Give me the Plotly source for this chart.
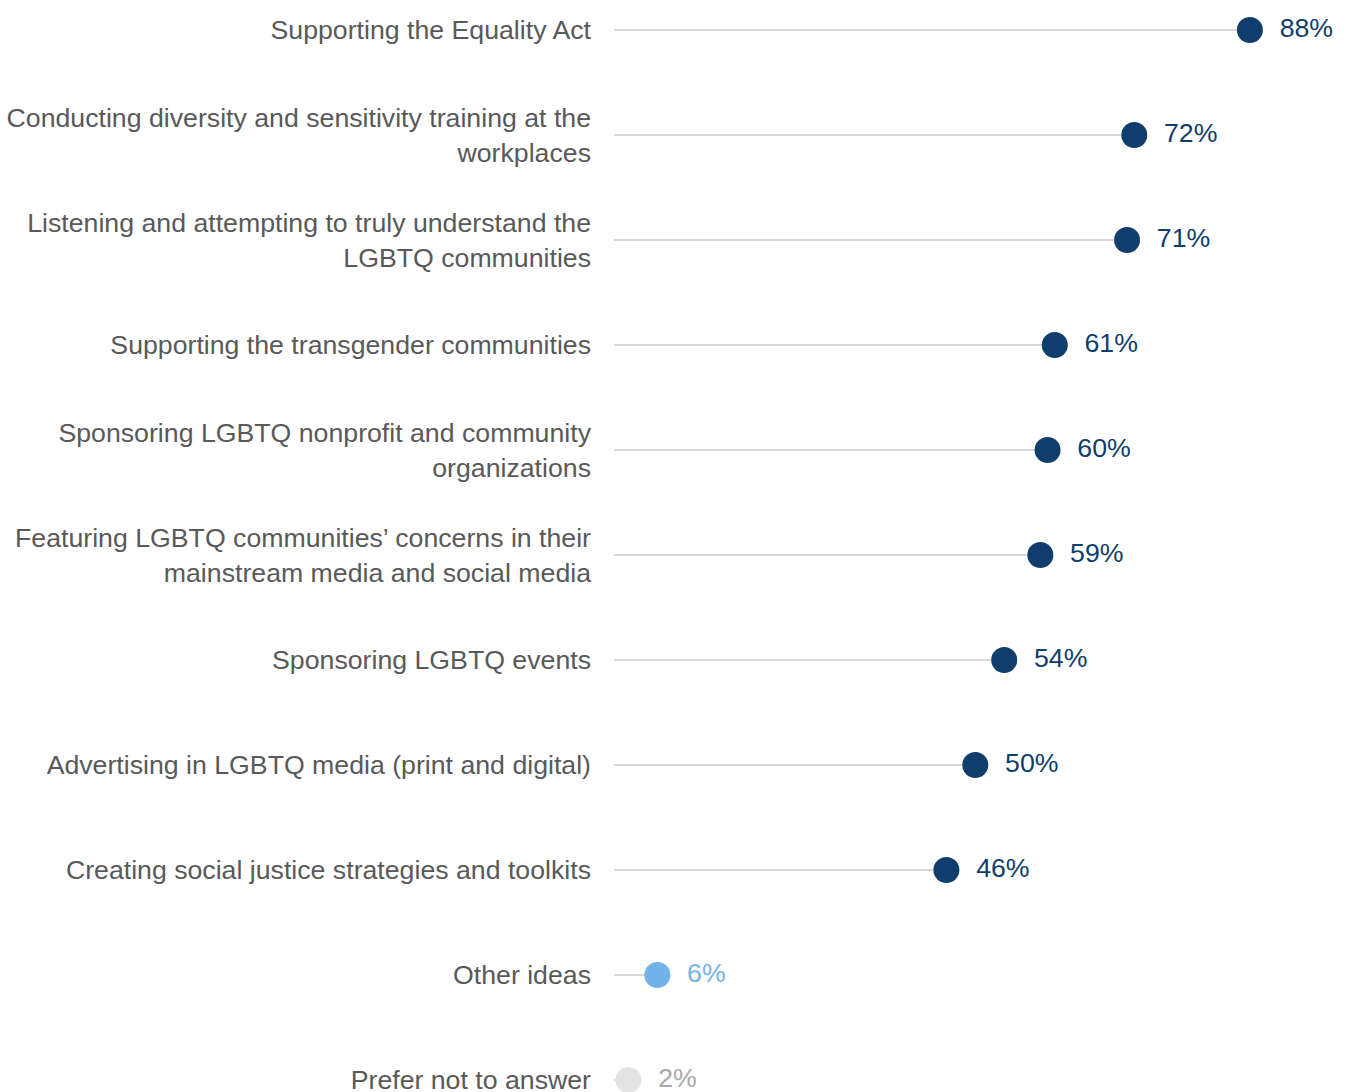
import plotly.graph_objects as go

# Survey responses: what companies should do to support LGBTQ communities
categories = [
    "Supporting the Equality Act",
    "Conducting diversity and sensitivity training at the<br>workplaces",
    "Listening and attempting to truly understand the<br>LGBTQ communities",
    "Supporting the transgender communities",
    "Sponsoring LGBTQ nonprofit and community<br>organizations",
    "Featuring LGBTQ communities\u2019 concerns in their<br>mainstream media and social media",
    "Sponsoring LGBTQ events",
    "Advertising in LGBTQ media (print and digital)",
    "Creating social justice strategies and toolkits",
    "Other ideas",
    "Prefer not to answer",
]
values = [88, 72, 71, 61, 60, 59, 54, 50, 46, 6, 2]

NAVY = "#0f3e6c"
LIGHT = "#74b2ea"
GREY = "#e3e3e3"
dot_colors = [NAVY] * 9 + [LIGHT, GREY]
text_colors = [NAVY] * 9 + [LIGHT, "#a9a9a9"]
FONT = "Liberation Sans, Arial, sans-serif"
FS = 26.7

# stems from zero to each value
stem_x, stem_y = [], []
for c, v in zip(categories, values):
    stem_x += [0, v, None]
    stem_y += [c, c, None]

fig = go.Figure()
fig.add_trace(go.Scatter(
    x=stem_x, y=stem_y, mode="lines",
    line=dict(color="#d9d9d9", width=2),
    hoverinfo="skip", showlegend=False,
))
fig.add_trace(go.Scatter(
    x=values, y=categories, mode="markers",
    marker=dict(size=26, color=dot_colors),
    showlegend=False,
))
# percentage labels, pushed clear of the dots by a wider invisible marker
fig.add_trace(go.Scatter(
    x=values, y=categories, mode="markers+text",
    marker=dict(size=46, opacity=0),
    text=[f"{v}%" for v in values],
    textposition="middle right",
    textfont=dict(family=FONT, size=FS, color=text_colors),
    cliponaxis=False, hoverinfo="skip",
    showlegend=False,
))

fig.update_layout(
    width=1346, height=1092,
    margin=dict(l=614, r=0, t=0, b=0),
    paper_bgcolor="white", plot_bgcolor="white",
    font=dict(family=FONT, size=FS, color="#595959"),
    xaxis=dict(range=[0, 101.3], visible=False, fixedrange=True, automargin=False),
    yaxis=dict(
        type="category",
        categoryorder="array", categoryarray=categories,
        range=[10.114, -0.2857],
        showgrid=False, zeroline=False, showline=False,
        ticks="", ticklabelstandoff=22,
        tickfont=dict(family=FONT, size=FS, color="#595959"),
        fixedrange=True, automargin=False,
    ),
)

fig.write_html("out.html")
